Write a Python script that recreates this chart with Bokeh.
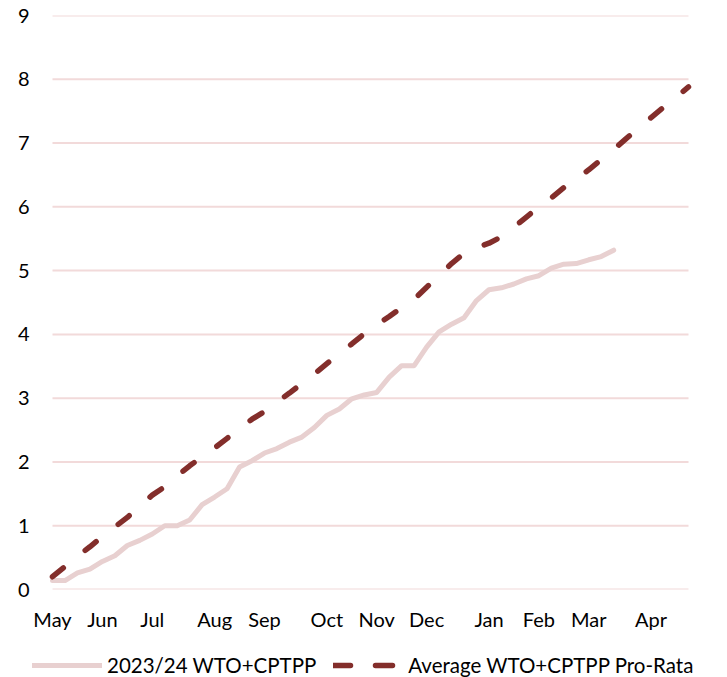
from bokeh.plotting import figure
from bokeh.layouts import column
from bokeh.models import FixedTicker, Legend, LegendItem, Range1d
from bokeh.embed import file_html
from bokeh.resources import INLINE

month_labels = ["May", "Jun", "Jul", "Aug", "Sep", "Oct", "Nov", "Dec", "Jan", "Feb", "Mar", "Apr"]
month_start_week = [0, 4, 8, 13, 17, 22, 26, 30, 35, 39, 43, 48]
y_ticks = [0, 1, 2, 3, 4, 5, 6, 7, 8, 9]

actual_2023_24 = [0.14, 0.14, 0.26, 0.32, 0.44, 0.53, 0.69, 0.77, 0.87, 1.00,
                  1.00, 1.09, 1.33, 1.45, 1.58, 1.92, 2.02, 2.14, 2.21, 2.31,
                  2.39, 2.54, 2.73, 2.83, 2.99, 3.05, 3.09, 3.33, 3.51, 3.51,
                  3.80, 4.04, 4.16, 4.26, 4.53, 4.70, 4.73, 4.79, 4.87, 4.92,
                  5.04, 5.10, 5.11, 5.17, 5.22, 5.32]

average_pro_rata = [0.20, 0.36, 0.52, 0.67, 0.83, 0.98, 1.13, 1.31, 1.48, 1.61,
                    1.78, 1.94, 2.08, 2.22, 2.37, 2.52, 2.67, 2.79, 2.94, 3.08,
                    3.23, 3.38, 3.54, 3.70, 3.85, 4.01, 4.15, 4.28, 4.42, 4.55,
                    4.74, 4.92, 5.11, 5.27, 5.36, 5.43, 5.53, 5.68, 5.84, 6.00,
                    6.14, 6.30, 6.44, 6.58, 6.74, 6.90, 7.07, 7.23, 7.40, 7.56,
                    7.72, 7.88]

series_names = ["2023/24 WTO+CPTPP", "Average WTO+CPTPP Pro-Rata"]

FONT = "Lato"
FS = "20px"
PINK = "#E8D0D0"
DARK = "#832E2B"
GRID = "#F2DADA"

weeks_a = list(range(len(actual_2023_24)))
weeks_b = list(range(len(average_pro_rata)))
first_week, last_week = weeks_b[0], weeks_b[-1]

# the frame is wider than the data span so that the legend strip below (whose
# frame is aligned with this one) has room; 636 px cover the 51 week steps
px_per_week = 636 / (last_week - first_week)
x_start = first_week - 22 / px_per_week
x_end = last_week + 22 / px_per_week

p = figure(frame_width=680, frame_height=574, output_backend="svg", toolbar_location=None,
           x_range=Range1d(x_start, x_end), y_range=Range1d(0, 9),
           min_border_left=30, min_border_right=8, min_border_top=15,
           min_border_bottom=46)
p.outline_line_color = None
p.background_fill_color = "white"
p.border_fill_color = "white"
p.grid.grid_line_color = None

# horizontal gridlines spanning the season (week 0 to week 51)
p.segment(x0=[first_week] * len(y_ticks), y0=y_ticks,
          x1=[last_week] * len(y_ticks), y1=y_ticks,
          line_color=GRID, line_width=2)

p.yaxis.ticker = FixedTicker(ticks=y_ticks)
p.yaxis.axis_line_color = None
p.yaxis.major_tick_line_color = None
p.yaxis.minor_tick_line_color = None
p.yaxis.major_tick_out = 0
p.yaxis.major_label_standoff = 1
p.yaxis.major_label_text_font = FONT
p.yaxis.major_label_text_font_size = FS
p.yaxis.major_label_text_color = "black"

p.xaxis.ticker = FixedTicker(ticks=month_start_week)
p.xaxis.major_label_overrides = {w: m for w, m in zip(month_start_week, month_labels)}
p.xaxis.axis_line_color = None
p.xaxis.major_tick_line_color = None
p.xaxis.minor_tick_line_color = None
p.xaxis.major_tick_out = 0
p.xaxis.major_label_standoff = 17
p.xaxis.major_label_text_font = FONT
p.xaxis.major_label_text_font_size = FS
p.xaxis.major_label_text_color = "black"

p.line(weeks_a, actual_2023_24, line_color=PINK, line_width=5,
       line_join="round", line_cap="round")
p.line(weeks_b, average_pro_rata, line_color=DARK, line_width=5.5,
       line_dash="14 28", line_cap="round", line_join="round")

# Legend strip below the chart (key renderers sit outside the visible range)
lg = figure(width=718, height=42, output_backend="svg", toolbar_location=None,
            x_range=Range1d(0, 1), y_range=Range1d(0, 1),
            min_border_left=0, min_border_right=0, min_border_top=0, min_border_bottom=0)
lg.axis.visible = False
lg.grid.visible = False
lg.outline_line_color = None
lg.border_fill_color = "white"
lg.background_fill_color = "white"
k1 = lg.line([0, 1], [-5, -5], line_color=PINK, line_width=5, line_cap="round")
k2 = lg.line([0, 1], [-5, -5], line_color=DARK, line_width=5.5, line_dash="17 25", line_cap="round")

legend = Legend(items=[LegendItem(label=series_names[0], renderers=[k1]),
                       LegendItem(label=series_names[1], renderers=[k2])],
                orientation="horizontal", location=(2, 0),
                label_text_font=FONT, label_text_font_size="20.5px",
                label_text_color="black", glyph_width=70, glyph_height=20,
                label_standoff=5, spacing=17, padding=0, margin=0,
                border_line_color=None, background_fill_alpha=0)
lg.add_layout(legend, "center")

layout = column(p, lg, spacing=0)
open("out.html", "w").write(file_html(layout, INLINE))
